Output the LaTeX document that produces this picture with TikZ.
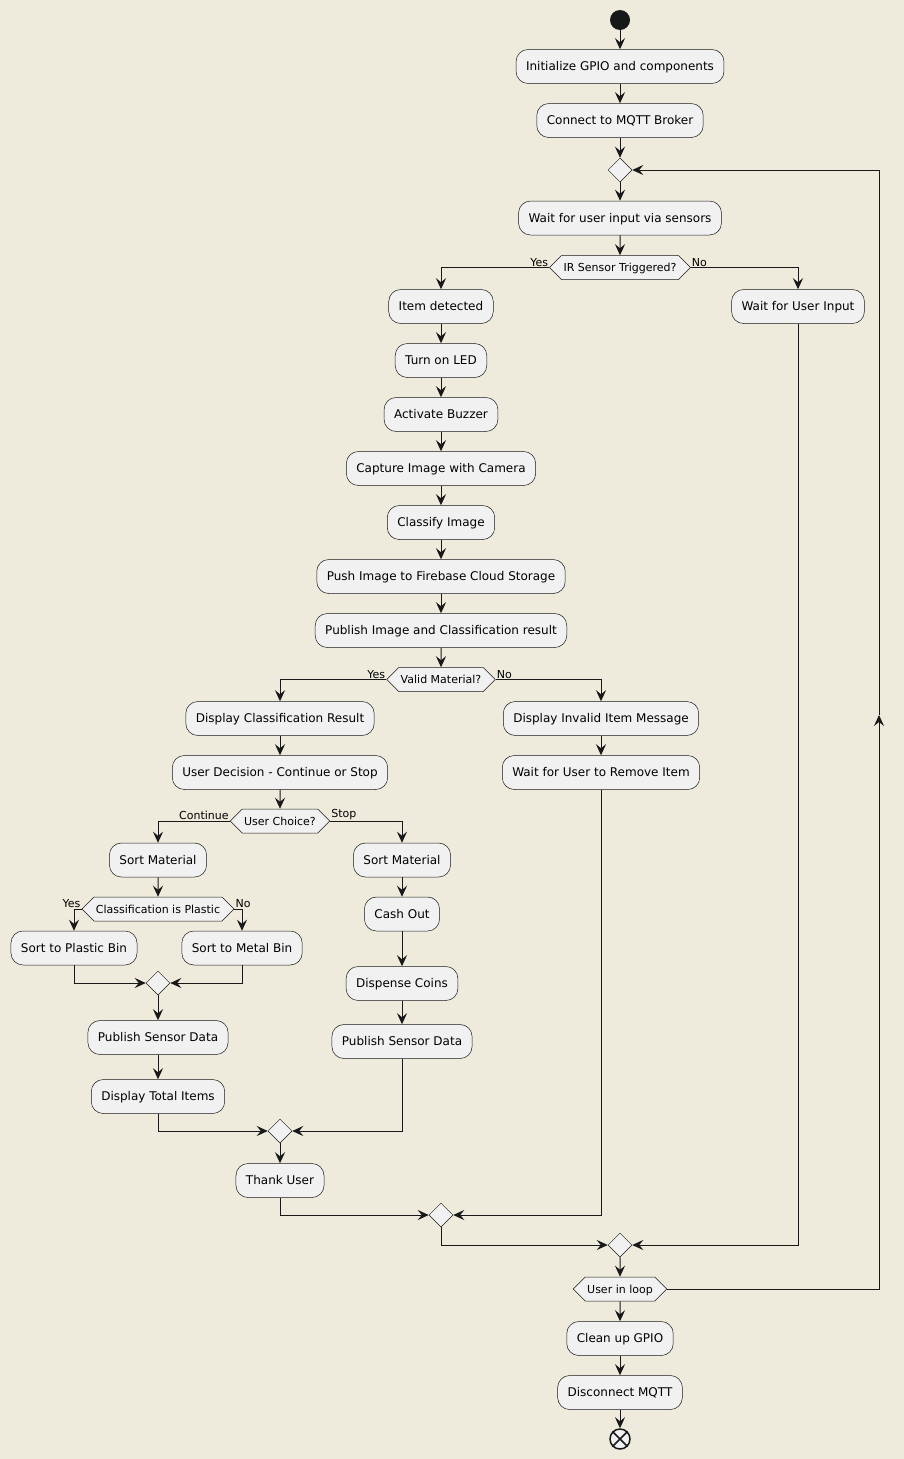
\documentclass[tikz,border=0pt]{standalone}
\usepackage{fontspec}
\setmainfont{DejaVu Sans}
\usetikzlibrary{arrows.meta,shapes.symbols,shapes.geometric,calc}
\definecolor{bg}{HTML}{EEEBDC}
\definecolor{boxfill}{HTML}{F1F1F1}
\definecolor{ink}{HTML}{181818}
\begin{document}
\begin{tikzpicture}[x=1pt,y=-1pt,
  act/.style={draw=ink, line width=0.5pt, fill=boxfill, rounded corners=12pt,
    minimum height=34pt, inner xsep=10pt, text height=11.5pt, text depth=2.7pt,
    font=\fontsize{12}{14}\selectfont},
  hex/.style={signal, signal to=east and west, signal pointer angle=90,
    draw=ink, line width=0.5pt, fill=boxfill, minimum height=24pt,
    inner xsep=2pt, inner ysep=0pt, text height=10.5pt, text depth=2.5pt,
    font=\fontsize{11}{13}\selectfont},
  merge/.style={diamond, draw=ink, line width=0.5pt, fill=boxfill,
    minimum size=24pt, inner sep=0pt},
  line/.style={draw=ink, line width=1pt},
  arr/.style={line, -{Stealth[length=11pt,width=10pt,inset=4pt]}},
  lbl/.style={font=\fontsize{11}{13}\selectfont, inner sep=1pt}
]
\fill[bg] (0,0) rectangle (904,1459);
\useasboundingbox (0,0) rectangle (904,1459);

% main column
\node[circle, fill=ink, minimum size=20pt, inner sep=0pt] (start) at (620,20) {};
\node[act] (init) at (620,66.5) {Initialize GPIO and components};
\node[act] (mqtt) at (620,120.5) {Connect to MQTT Broker};
\node[merge] (m1) at (620,170) {};
\node[act] (wait) at (620,218) {Wait for user input via sensors};
\node[hex] (ir) at (620,267.5) {IR Sensor Triggered?};
\node[act] (userin) at (798,306.5) {Wait for User Input};

% item handling
\node[act] (item) at (441,306.5) {Item detected};
\node[act] (led) at (441,360.5) {Turn on LED};
\node[act] (buzz) at (441,414.5) {Activate Buzzer};
\node[act] (cap) at (441,468.5) {Capture Image with Camera};
\node[act] (cls) at (441,522.5) {Classify Image};
\node[act] (push) at (441,576.5) {Push Image to Firebase Cloud Storage};
\node[act] (pub) at (441,630.5) {Publish Image and Classification result};
\node[hex] (valid) at (441,679.5) {Valid Material?};

\node[act] (disp) at (280,718.5) {Display Classification Result};
\node[act] (dec) at (280,772.5) {User Decision - Continue or Stop};
\node[act] (inval) at (601,718.5) {Display Invalid Item Message};
\node[act] (remove) at (601,772.5) {Wait for User to Remove Item};

\node[hex] (choice) at (280,821) {User Choice?};

% continue branch
\node[act] (sortL) at (158,860) {Sort Material};
\node[hex] (plastic) at (158,909) {Classification is Plastic};
\node[act] (pbin) at (74,948) {Sort to Plastic Bin};
\node[act] (mbin) at (242,948) {Sort to Metal Bin};
\node[merge] (m2) at (158,983) {};
\node[act] (psdL) at (158,1037.5) {Publish Sensor Data};
\node[act] (total) at (158,1096.5) {Display Total Items};

% stop branch
\node[act] (sortR) at (402,860) {Sort Material};
\node[act] (cash) at (402,914) {Cash Out};
\node[act] (coins) at (402,983.5) {Dispense Coins};
\node[act] (psdR) at (402,1041.5) {Publish Sensor Data};

\node[merge] (m3) at (280,1131) {};
\node[act] (thank) at (280,1180.5) {Thank User};
\node[merge] (m4) at (441,1215) {};
\node[merge] (m5) at (620,1245) {};
\node[hex] (loop) at (620,1289) {User in loop};
\node[act] (clean) at (620,1338.5) {Clean up GPIO};
\node[act] (disc) at (620,1392.5) {Disconnect MQTT};
\node[circle, draw=ink, line width=1.5pt, fill=boxfill, minimum size=20pt, inner sep=0pt] (stop) at (620,1439) {};
\draw[ink, line width=1.5pt] (stop.north west) -- (stop.south east)
  (stop.north east) -- (stop.south west);

% connectors
\draw[arr] (start) -- (init);
\draw[arr] (init) -- (mqtt);
\draw[arr] (mqtt) -- (m1);
\draw[arr] (m1) -- (wait);
\draw[arr] (wait) -- (ir);
\draw[arr] (ir.west) -| (item.north);
\draw[arr] (ir.east) -| (userin.north);
\node[lbl, anchor=south east] at (ir.west) {Yes};
\node[lbl, anchor=south west] at (ir.east) {No};
\draw[arr] (userin.south) |- (m5.east);

\draw[arr] (item) -- (led);
\draw[arr] (led) -- (buzz);
\draw[arr] (buzz) -- (cap);
\draw[arr] (cap) -- (cls);
\draw[arr] (cls) -- (push);
\draw[arr] (push) -- (pub);
\draw[arr] (pub) -- (valid);
\draw[arr] (valid.west) -| (disp.north);
\draw[arr] (valid.east) -| (inval.north);
\node[lbl, anchor=south east] at (valid.west) {Yes};
\node[lbl, anchor=south west] at (valid.east) {No};
\draw[arr] (inval) -- (remove);
\draw[arr] (remove.south) |- (m4.east);
\draw[arr] (disp) -- (dec);
\draw[arr] (dec) -- (choice);
\draw[arr] (choice.west) -| (sortL.north);
\draw[arr] (choice.east) -| (sortR.north);
\node[lbl, anchor=south east] at (choice.west) {Continue};
\node[lbl, anchor=south west] at (choice.east) {Stop};

\draw[arr] (sortL) -- (plastic);
\draw[arr] (plastic.west) -| (pbin.north);
\draw[arr] (plastic.east) -| (mbin.north);
\node[lbl, anchor=south east] at (plastic.west) {Yes};
\node[lbl, anchor=south west] at (plastic.east) {No};
\draw[arr] (pbin.south) |- (m2.west);
\draw[arr] (mbin.south) |- (m2.east);
\draw[arr] (m2) -- (psdL);
\draw[arr] (psdL) -- (total);
\draw[arr] (total.south) |- (m3.west);

\draw[arr] (sortR) -- (cash);
\draw[arr] (cash) -- (coins);
\draw[arr] (coins) -- (psdR);
\draw[arr] (psdR.south) |- (m3.east);

\draw[arr] (m3) -- (thank);
\draw[arr] (thank.south) |- (m4.west);
\draw[arr] (m4.south) |- (m5.west);
\draw[arr] (m5) -- (loop);
\draw[arr] (loop) -- (clean);
\draw[arr] (clean) -- (disc);
\draw[arr] (disc) -- (stop);

% back edge of the loop
\coordinate (lr) at (879,1289);
\coordinate (lm) at (879,715);
\coordinate (lt) at (879,170);
\draw[arr] (loop.east) -- (lr) -- (lm);
\draw[arr] (lm) -- (lt) -- (m1.east);
\end{tikzpicture}
\end{document}
